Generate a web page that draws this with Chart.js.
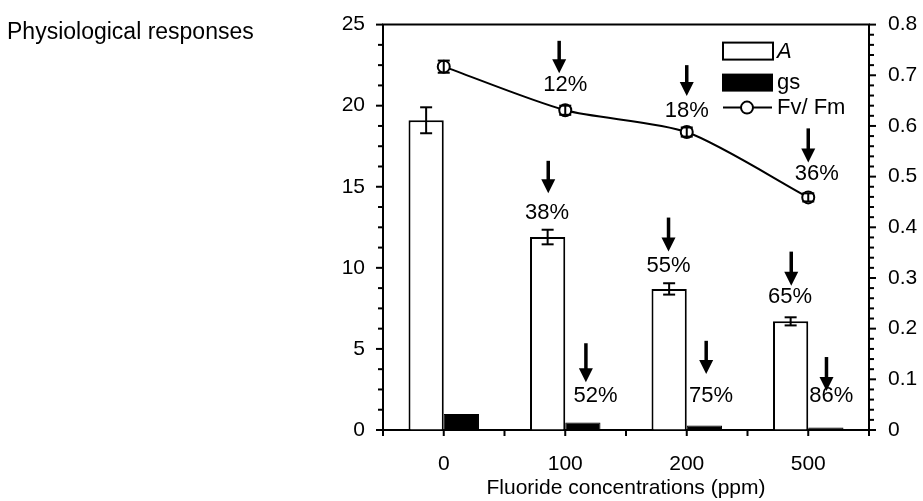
<!DOCTYPE html>
<html>
<head>
<meta charset="utf-8">
<script src="https://cdn.jsdelivr.net/npm/chart.js@4.4.0/dist/chart.umd.min.js"></script>
<style>
  body { margin: 0; background: #fff; }
</style>
</head>
<body>
<canvas id="myChart" width="923" height="501"></canvas>
<script>
// data
const concentrations = ["0", "100", "200", "500"];
const netPhotosynthesis = [19.1, 11.9, 8.7, 6.7];        // A, left axis
const netPhotosynthesisErr = [0.8, 0.45, 0.35, 0.25];
const stomatalConductance = [0.98, 0.47, 0.27, 0.16];   // gs, left axis
const fvFm = [0.717, 0.631, 0.588, 0.459];               // right axis
const fvFmErr = [0.012, 0.009, 0.009, 0.008];

// reduction labels (category index, arrow from/to in left-axis units)
const dropLabels = ["12%", "18%", "36%", "38%", "55%", "65%", "52%", "75%", "86%"];
const dropCategory = [1, 2, 3, 1, 2, 3, 1, 2, 3];
const dropArrowDx = [-0.05, 0, 0, -0.14, -0.15, -0.14, 0.17, 0.16, 0.15];
const dropArrowTop = [24.0, 22.5, 18.6, 16.6, 13.1, 11.0, 5.35, 5.5, 4.5];
const dropArrowTip = [22.0, 20.6, 16.5, 14.6, 11.0, 8.9, 2.95, 3.45, 2.4];
const dropTextDx = [0, 0, 0.07, -0.15, -0.15, -0.15, 0.25, 0.2, 0.19];
const dropTextY = [21.3, 19.7, 15.8, 13.4, 10.1, 8.2, 2.1, 2.1, 2.1];

const FONT = '"Liberation Sans", Arial, sans-serif';
const FS = 21;   // axis text
const FS2 = 22;  // annotations + legend

function seg(ctx, x1, y1, x2, y2) {
    ctx.beginPath();
    ctx.moveTo(x1, y1);
    ctx.lineTo(x2, y2);
    ctx.stroke();
}

const extras = {
    id: "extras",
    afterDraw(chart) {
        const ctx = chart.ctx;
        const x = chart.scales.x, y = chart.scales.y, y1 = chart.scales.y1;
        const area = chart.chartArea;
        ctx.save();
        ctx.strokeStyle = "#000";
        ctx.fillStyle = "#000";
        ctx.lineCap = "butt";

        //error bars on A
        ctx.lineWidth = 2;
        const barMeta = chart.getDatasetMeta(0);
        netPhotosynthesis.forEach((v, i) => {
            const cx = barMeta.data[i].x;
            const t = y.getPixelForValue(v + netPhotosynthesisErr[i]);
            const b = y.getPixelForValue(v - netPhotosynthesisErr[i]);
            seg(ctx, cx, t, cx, b);
            seg(ctx, cx - 6, t, cx + 6, t);
            seg(ctx, cx - 6, b, cx + 6, b);
        });

        //error bars on Fv/Fm
        const lineMeta = chart.getDatasetMeta(2);
        fvFm.forEach((v, i) => {
            const cx = lineMeta.data[i].x;
            const t = y1.getPixelForValue(v + fvFmErr[i]);
            const b = y1.getPixelForValue(v - fvFmErr[i]);
            seg(ctx, cx, t, cx, b);
            seg(ctx, cx - 6, t, cx + 6, t);
            seg(ctx, cx - 6, b, cx + 6, b);
        });

        //arrows + percentages
        ctx.font = FS2 + "px " + FONT;
        ctx.textAlign = "center";
        ctx.textBaseline = "middle";
        dropLabels.forEach((lab, i) => {
            const ax = x.getPixelForValue(dropCategory[i] + dropArrowDx[i]);
            const top = y.getPixelForValue(dropArrowTop[i]);
            const tip = y.getPixelForValue(dropArrowTip[i]);
            ctx.lineWidth = 3.5;
            seg(ctx, ax, top, ax, tip - 12);
            ctx.beginPath();
            ctx.moveTo(ax - 7, tip - 14);
            ctx.lineTo(ax + 7, tip - 14);
            ctx.lineTo(ax, tip);
            ctx.closePath();
            ctx.fill();
            const tx = x.getPixelForValue(dropCategory[i] + dropTextDx[i]);
            ctx.fillText(lab, tx, y.getPixelForValue(dropTextY[i]));
        });

        //tick marks
        ctx.lineWidth = 2;
        for (let k = 0; k <= 20; k++) {
            const py = y.getPixelForValue(k * 1.25);
            const len = k % 4 === 0 ? 7 : 5;
            seg(ctx, area.left - len, py, area.left, py);
        }
        for (let k = 0; k <= 40; k++) {
            const py = y1.getPixelForValue(k * 0.02);
            const len = k % 5 === 0 ? 7 : 5;
            seg(ctx, area.right, py, area.right + len, py);
        }
        for (let k = 0; k <= 8; k++) {
            const px = x.getPixelForValue(k / 2 - 0.5);
            seg(ctx, px, area.bottom, px, area.bottom + 6);
        }
        //frame top
        seg(ctx, area.left - 1, area.top, area.right + 1, area.top);

        //legend
        const lx = area.right - 146;
        ctx.lineWidth = 2;
        ctx.fillStyle = "#fff";
        ctx.fillRect(lx, area.top + 18, 50, 17);
        ctx.strokeRect(lx, area.top + 18, 50, 17);
        ctx.fillStyle = "#000";
        ctx.fillRect(lx - 1, area.top + 49, 51, 18);
        seg(ctx, lx, area.top + 83, lx + 49, area.top + 83);
        ctx.beginPath();
        ctx.arc(lx + 24, area.top + 83, 6, 0, Math.PI * 2);
        ctx.fillStyle = "#fff";
        ctx.fill();
        ctx.stroke();
        ctx.fillStyle = "#000";
        ctx.textAlign = "left";
        ctx.font = "italic " + FS2 + "px " + FONT;
        ctx.fillText(chart.data.datasets[0].label, lx + 54, area.top + 27);
        ctx.font = FS2 + "px " + FONT;
        ctx.fillText(chart.data.datasets[1].label, lx + 54, area.top + 58);
        ctx.fillText(chart.data.datasets[2].label, lx + 54, area.top + 83);

        //axis title on the left
        ctx.font = "23px " + FONT;
        ctx.fillText("Physiological responses", 7, 33);
        ctx.restore();
    }
};

window.myChart = new Chart("myChart", {
    type: "bar",
    data: {
        labels: concentrations,
        datasets: [{
            label: "A",
            data: netPhotosynthesis,
            backgroundColor: "#fff",
            borderColor: "#000",
            borderWidth: 2,
            yAxisID: "y",
            order: 2
        }, {
            label: "gs",
            data: stomatalConductance,
            backgroundColor: "#000",
            borderColor: "#000",
            borderWidth: 1,
            yAxisID: "y",
            order: 2
        }, {
            type: "line",
            label: "Fv/ Fm",
            data: fvFm,
            borderColor: "#000",
            borderWidth: 2,
            tension: 0.25,
            pointRadius: 6,
            pointBorderWidth: 2,
            pointBackgroundColor: "#fff",
            pointBorderColor: "#000",
            yAxisID: "y1",
            order: 1
        }]
    },
    options: {
        responsive: false,
        animation: false,
        layout: { padding: { top: 17, left: 0, right: 0, bottom: 0 } },
        datasets: { bar: { categoryPercentage: 0.58, barPercentage: 1 } },
        plugins: {
            legend: { display: false },
            tooltip: { enabled: false }
        },
        scales: {
            x: {
                grid: { display: true, drawOnChartArea: false, tickLength: 7, tickColor: "rgba(0,0,0,0)", offset: true },
                border: { color: "#000", width: 2 },
                ticks: { color: "#000", font: { family: FONT, size: FS }, padding: 15, maxRotation: 0 },
                title: { display: true, text: "Fluoride concentrations (ppm)", color: "#000", font: { family: FONT, size: FS }, padding: { top: 0, bottom: 0 } },
                afterFit: s => { s.height = 71; }
            },
            y: {
                position: "left",
                min: 0, max: 25,
                grid: { display: true, drawOnChartArea: false, tickLength: 7, tickColor: "rgba(0,0,0,0)" },
                border: { color: "#000", width: 2 },
                ticks: { stepSize: 5, color: "#000", font: { family: FONT, size: FS }, padding: 11 },
                afterFit: s => { s.width = 383; }
            },
            y1: {
                position: "right",
                min: 0, max: 0.8,
                grid: { display: true, drawOnChartArea: false, tickLength: 7, tickColor: "rgba(0,0,0,0)" },
                border: { color: "#000", width: 2 },
                ticks: {
                    stepSize: 0.1, color: "#000", font: { family: FONT, size: FS }, padding: 12,
                    callback: v => v === 0 ? "0" : v.toFixed(1)
                },
                afterFit: s => { s.width = 54; }
            }
        }
    },
    plugins: [extras]
});
</script>
</body>
</html>
